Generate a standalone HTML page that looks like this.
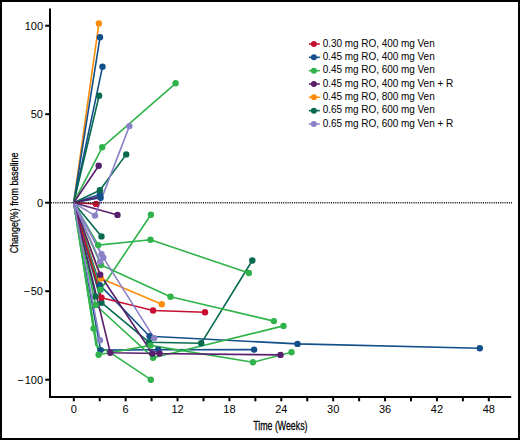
<!DOCTYPE html>
<html><head><meta charset="utf-8"><style>
html,body{margin:0;padding:0;background:#fff;}
body{width:520px;height:440px;overflow:hidden;}
svg{display:block;}
text{font-family:"Liberation Sans",sans-serif;fill:#000;}
</style></head><body>
<svg width="520" height="440" viewBox="0 0 520 440">
<rect x="0" y="0" width="520" height="440" fill="#fff"/>
<rect x="1" y="1" width="518" height="438" fill="none" stroke="#000" stroke-width="2"/>
<g fill="none" stroke-width="1.6" stroke-linejoin="round" stroke-linecap="round">
<path d="M73.7 202.7L98.9 23.4" stroke="#fb8c0c"/><path d="M73.7 202.7L101 278.6L161.8 304.2" stroke="#fb8c0c"/><path d="M73.7 202.7L100 37.3" stroke="#134f89"/><path d="M73.7 202.7L102.5 66.8" stroke="#134f89"/><path d="M73.7 202.7L99.9 194.5" stroke="#134f89"/><path d="M73.7 202.7L100.6 197.8" stroke="#134f89"/><path d="M73.7 202.7L99.9 285.1L149.6 336.2L297.5 343.9L479.8 348.3" stroke="#134f89"/><path d="M73.7 202.7L100.6 350.1L158.1 349.8L254.1 349.6" stroke="#134f89"/><path d="M73.7 202.7L99.1 95.7" stroke="#076a51"/><path d="M73.7 202.7L99.9 190.2L126.2 154.4" stroke="#076a51"/><path d="M73.7 202.7L101.5 236.4" stroke="#076a51"/><path d="M73.7 202.7L95.6 296.4" stroke="#076a51"/><path d="M73.7 202.7L101.5 302.7L149.2 342.3L201.2 343.3L252.3 260.5" stroke="#076a51"/><path d="M73.7 202.7L102.2 147.3L175.6 83.3" stroke="#30b34a"/><path d="M73.7 202.7L98.2 245.1L150.5 239.8L248.9 273" stroke="#30b34a"/><path d="M73.7 202.7L101 265L170.5 296.7L273.9 321.1" stroke="#30b34a"/><path d="M73.7 202.7L100.5 289.7L150.9 214.8" stroke="#30b34a"/><path d="M73.7 202.7L95.6 305L153.1 357.7L283.5 325.9" stroke="#30b34a"/><path d="M73.7 202.7L98.6 354.7L150.4 345.4L253 362.3L291.5 352.2" stroke="#30b34a"/><path d="M73.7 202.7L93.6 328.4" stroke="#30b34a"/><path d="M73.7 202.7L96 345.5L110.3 352.6L150.8 379.7" stroke="#30b34a"/><path d="M73.7 202.7L96 203.9" stroke="#c80f32"/><path d="M73.7 202.7L101.5 297.7L153.1 310.5L205 312.3" stroke="#c80f32"/><path d="M73.7 202.7L98.7 165.8" stroke="#591f6d"/><path d="M73.7 202.7L99.3 196.8" stroke="#591f6d"/><path d="M73.7 202.7L117.5 214.9" stroke="#591f6d"/><path d="M73.7 202.7L100.2 274.7L152.3 353.5L280.5 354.9" stroke="#591f6d"/><path d="M73.7 202.7L110.3 352.7L159.6 353.5" stroke="#591f6d"/><path d="M73.7 202.7L95 215.6L129.4 126.1" stroke="#8a82c7"/><path d="M73.7 202.7L101.6 254.2" stroke="#8a82c7"/><path d="M73.7 202.7L103.3 257.6L154.2 338.1" stroke="#8a82c7"/><path d="M73.7 202.7L100.2 261.6" stroke="#8a82c7"/><path d="M73.7 202.7L100 340.2" stroke="#8a82c7"/>
</g>
<g stroke="none"><circle cx="98.9" cy="23.4" r="3.2" fill="#fb8c0c"/><circle cx="101" cy="278.6" r="3.2" fill="#fb8c0c"/><circle cx="161.8" cy="304.2" r="3.2" fill="#fb8c0c"/><circle cx="100" cy="37.3" r="3.2" fill="#134f89"/><circle cx="102.5" cy="66.8" r="3.2" fill="#134f89"/><circle cx="99.9" cy="194.5" r="3.2" fill="#134f89"/><circle cx="100.6" cy="197.8" r="3.2" fill="#134f89"/><circle cx="99.9" cy="285.1" r="3.2" fill="#134f89"/><circle cx="149.6" cy="336.2" r="3.2" fill="#134f89"/><circle cx="297.5" cy="343.9" r="3.2" fill="#134f89"/><circle cx="479.8" cy="348.3" r="3.2" fill="#134f89"/><circle cx="100.6" cy="350.1" r="3.2" fill="#134f89"/><circle cx="158.1" cy="349.8" r="3.2" fill="#134f89"/><circle cx="254.1" cy="349.6" r="3.2" fill="#134f89"/><circle cx="99.1" cy="95.7" r="3.2" fill="#076a51"/><circle cx="99.9" cy="190.2" r="3.2" fill="#076a51"/><circle cx="126.2" cy="154.4" r="3.2" fill="#076a51"/><circle cx="101.5" cy="236.4" r="3.2" fill="#076a51"/><circle cx="95.6" cy="296.4" r="3.2" fill="#076a51"/><circle cx="101.5" cy="302.7" r="3.2" fill="#076a51"/><circle cx="149.2" cy="342.3" r="3.2" fill="#076a51"/><circle cx="201.2" cy="343.3" r="3.2" fill="#076a51"/><circle cx="252.3" cy="260.5" r="3.2" fill="#076a51"/><circle cx="102.2" cy="147.3" r="3.2" fill="#30b34a"/><circle cx="175.6" cy="83.3" r="3.2" fill="#30b34a"/><circle cx="98.2" cy="245.1" r="3.2" fill="#30b34a"/><circle cx="150.5" cy="239.8" r="3.2" fill="#30b34a"/><circle cx="248.9" cy="273" r="3.2" fill="#30b34a"/><circle cx="101" cy="265" r="3.2" fill="#30b34a"/><circle cx="170.5" cy="296.7" r="3.2" fill="#30b34a"/><circle cx="273.9" cy="321.1" r="3.2" fill="#30b34a"/><circle cx="100.5" cy="289.7" r="3.2" fill="#30b34a"/><circle cx="150.9" cy="214.8" r="3.2" fill="#30b34a"/><circle cx="95.6" cy="305" r="3.2" fill="#30b34a"/><circle cx="153.1" cy="357.7" r="3.2" fill="#30b34a"/><circle cx="283.5" cy="325.9" r="3.2" fill="#30b34a"/><circle cx="98.6" cy="354.7" r="3.2" fill="#30b34a"/><circle cx="150.4" cy="345.4" r="3.2" fill="#30b34a"/><circle cx="253" cy="362.3" r="3.2" fill="#30b34a"/><circle cx="291.5" cy="352.2" r="3.2" fill="#30b34a"/><circle cx="93.6" cy="328.4" r="3.2" fill="#30b34a"/><circle cx="150.8" cy="379.7" r="3.2" fill="#30b34a"/><circle cx="96" cy="203.9" r="3.2" fill="#c80f32"/><circle cx="101.5" cy="297.7" r="3.2" fill="#c80f32"/><circle cx="153.1" cy="310.5" r="3.2" fill="#c80f32"/><circle cx="205" cy="312.3" r="3.2" fill="#c80f32"/><circle cx="98.7" cy="165.8" r="3.2" fill="#591f6d"/><circle cx="117.5" cy="214.9" r="3.2" fill="#591f6d"/><circle cx="100.2" cy="274.7" r="3.2" fill="#591f6d"/><circle cx="152.3" cy="353.5" r="3.2" fill="#591f6d"/><circle cx="280.5" cy="354.9" r="3.2" fill="#591f6d"/><circle cx="110.3" cy="352.7" r="3.2" fill="#591f6d"/><circle cx="159.6" cy="353.5" r="3.2" fill="#591f6d"/><circle cx="95" cy="215.6" r="3.2" fill="#8a82c7"/><circle cx="129.4" cy="126.1" r="3.2" fill="#8a82c7"/><circle cx="101.6" cy="254.2" r="3.2" fill="#8a82c7"/><circle cx="103.3" cy="257.6" r="3.2" fill="#8a82c7"/><circle cx="154.2" cy="338.1" r="3.2" fill="#8a82c7"/><circle cx="100.2" cy="261.6" r="3.2" fill="#8a82c7"/><circle cx="100" cy="340.2" r="3.2" fill="#8a82c7"/></g>
<line x1="51" y1="202.7" x2="512" y2="202.7" stroke="#222" stroke-width="1.6" stroke-dasharray="1.1 1.07"/>
<g stroke="#000" stroke-width="2">
<line x1="50" y1="8.6" x2="50" y2="397"/>
<line x1="49" y1="397" x2="511.2" y2="397"/>
<line x1="73.80" y1="397" x2="73.80" y2="401.3"/><line x1="99.74" y1="397" x2="99.74" y2="401.3"/><line x1="125.68" y1="397" x2="125.68" y2="401.3"/><line x1="151.61" y1="397" x2="151.61" y2="401.3"/><line x1="177.55" y1="397" x2="177.55" y2="401.3"/><line x1="203.49" y1="397" x2="203.49" y2="401.3"/><line x1="229.43" y1="397" x2="229.43" y2="401.3"/><line x1="255.37" y1="397" x2="255.37" y2="401.3"/><line x1="281.30" y1="397" x2="281.30" y2="401.3"/><line x1="307.24" y1="397" x2="307.24" y2="401.3"/><line x1="333.18" y1="397" x2="333.18" y2="401.3"/><line x1="359.12" y1="397" x2="359.12" y2="401.3"/><line x1="385.06" y1="397" x2="385.06" y2="401.3"/><line x1="410.99" y1="397" x2="410.99" y2="401.3"/><line x1="436.93" y1="397" x2="436.93" y2="401.3"/><line x1="462.87" y1="397" x2="462.87" y2="401.3"/><line x1="488.81" y1="397" x2="488.81" y2="401.3"/><line x1="45.2" y1="25.70" x2="50" y2="25.70"/><line x1="45.2" y1="114.20" x2="50" y2="114.20"/><line x1="45.2" y1="202.70" x2="50" y2="202.70"/><line x1="45.2" y1="291.20" x2="50" y2="291.20"/><line x1="45.2" y1="379.70" x2="50" y2="379.70"/>
</g>
<g font-size="11">
<text x="73.80" y="412.5" text-anchor="middle">0</text><text x="125.68" y="412.5" text-anchor="middle">6</text><text x="177.55" y="412.5" text-anchor="middle">12</text><text x="229.43" y="412.5" text-anchor="middle">18</text><text x="281.30" y="412.5" text-anchor="middle">24</text><text x="333.18" y="412.5" text-anchor="middle">30</text><text x="385.06" y="412.5" text-anchor="middle">36</text><text x="436.93" y="412.5" text-anchor="middle">42</text><text x="488.81" y="412.5" text-anchor="middle">48</text>
<text x="43" y="29.50" text-anchor="end">100</text><text x="43" y="118.00" text-anchor="end">50</text><text x="43" y="206.50" text-anchor="end">0</text><text x="43" y="295.00" text-anchor="end">−<tspan dx="0.9">50</tspan></text><text x="43" y="383.50" text-anchor="end">−<tspan dx="0.9">100</tspan></text>
</g>
<g font-size="10" letter-spacing="-0.04">
<line x1="308.9" y1="44.00" x2="319.8" y2="44.00" stroke="#c80f32" stroke-width="1.6"/><circle cx="313.9" cy="44.00" r="3" fill="#c80f32"/><text x="322.7" y="46.70">0.30 mg RO, 400 mg Ven</text><line x1="308.9" y1="57.33" x2="319.8" y2="57.33" stroke="#134f89" stroke-width="1.6"/><circle cx="313.9" cy="57.33" r="3" fill="#134f89"/><text x="322.7" y="60.03">0.45 mg RO, 400 mg Ven</text><line x1="308.9" y1="70.66" x2="319.8" y2="70.66" stroke="#30b34a" stroke-width="1.6"/><circle cx="313.9" cy="70.66" r="3" fill="#30b34a"/><text x="322.7" y="73.36">0.45 mg RO, 600 mg Ven</text><line x1="308.9" y1="83.99" x2="319.8" y2="83.99" stroke="#591f6d" stroke-width="1.6"/><circle cx="313.9" cy="83.99" r="3" fill="#591f6d"/><text x="322.7" y="86.69">0.45 mg RO, 400 mg Ven + R</text><line x1="308.9" y1="97.32" x2="319.8" y2="97.32" stroke="#fb8c0c" stroke-width="1.6"/><circle cx="313.9" cy="97.32" r="3" fill="#fb8c0c"/><text x="322.7" y="100.02">0.45 mg RO, 800 mg Ven</text><line x1="308.9" y1="110.65" x2="319.8" y2="110.65" stroke="#076a51" stroke-width="1.6"/><circle cx="313.9" cy="110.65" r="3" fill="#076a51"/><text x="322.7" y="113.35">0.65 mg RO, 600 mg Ven</text><line x1="308.9" y1="123.98" x2="319.8" y2="123.98" stroke="#8a82c7" stroke-width="1.6"/><circle cx="313.9" cy="123.98" r="3" fill="#8a82c7"/><text x="322.7" y="126.68">0.65 mg RO, 600 mg Ven + R</text>
</g>
<text x="253.2" y="429.9" font-size="12" transform="translate(253.2 0) scale(0.735 1) translate(-253.2 0)" stroke="#000" stroke-width="0.25">Time (Weeks)</text>
<text transform="translate(17.5 202.9) rotate(-90) scale(0.774 1)" font-size="11.5" text-anchor="middle" x="0" y="0" stroke="#000" stroke-width="0.25">Change(%) from baseline</text>
</svg>
</body></html>
